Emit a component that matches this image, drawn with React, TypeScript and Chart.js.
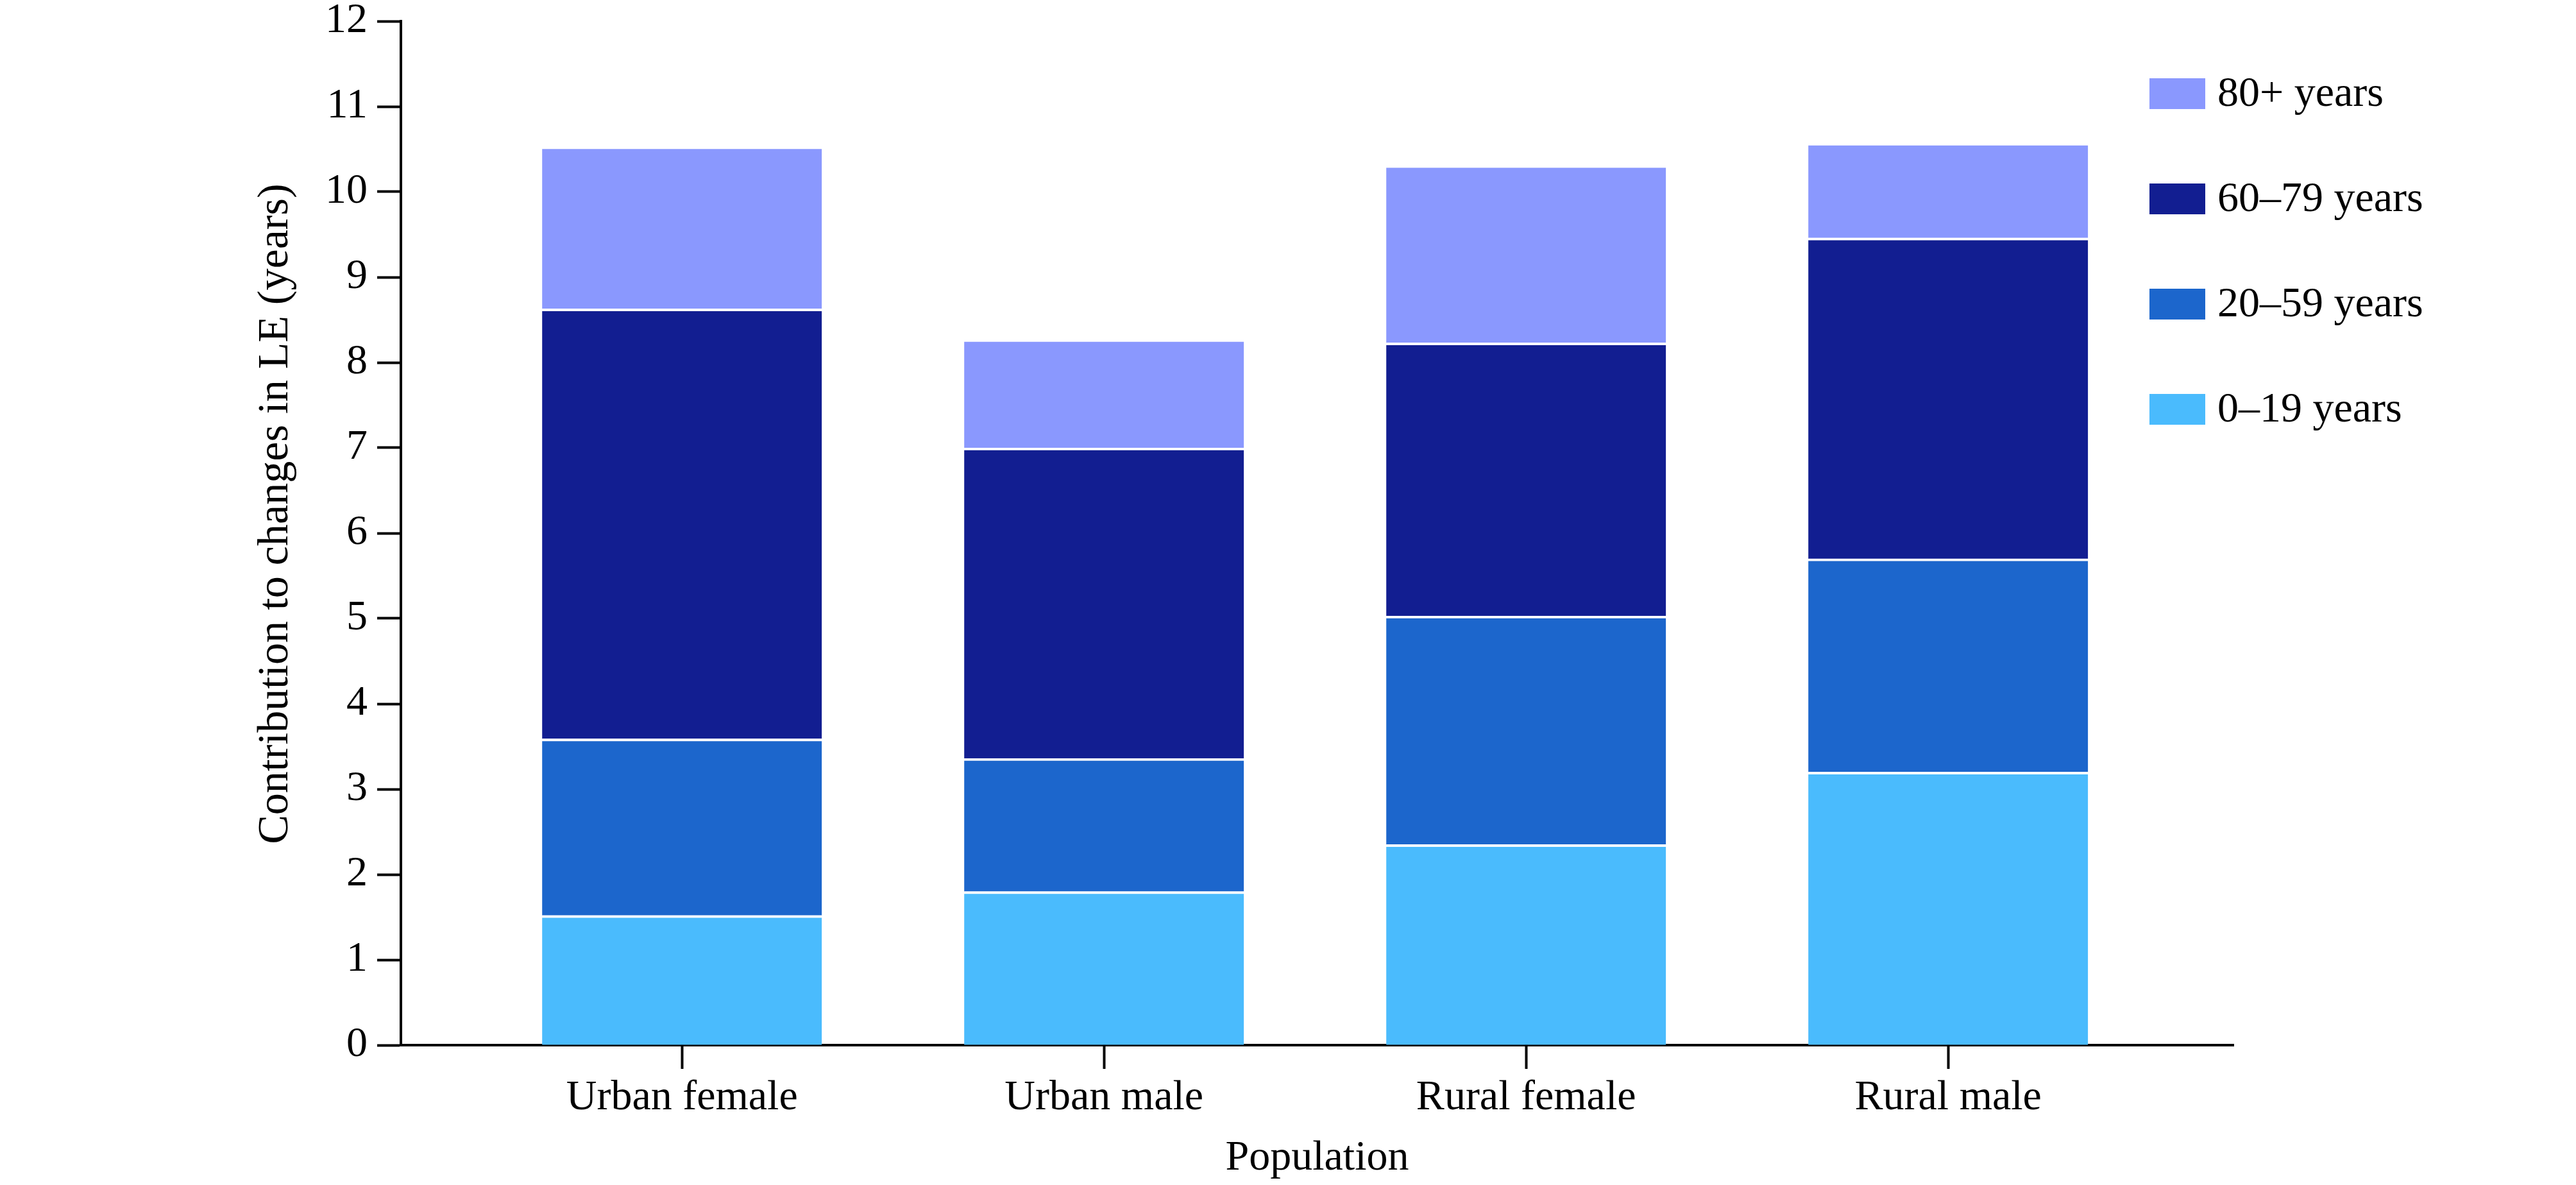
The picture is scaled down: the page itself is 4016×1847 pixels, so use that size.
import React, { useEffect, useRef } from "react";
import { Chart, registerables } from "chart.js";

Chart.register(...registerables);

const CATEGORIES = ["Urban female", "Urban male", "Rural female", "Rural male"];
const SERIES_NAMES = ["0–19 years", "20–59 years", "60–79 years", "80+ years"];
const AGE_0_19 = [1.52, 1.8, 2.35, 3.2];
const AGE_20_59 = [2.07, 1.56, 2.68, 2.5];
const AGE_60_79 = [5.04, 3.64, 3.2, 3.76];
const AGE_80_PLUS = [1.9, 1.27, 2.08, 1.11];
const SERIES_COLORS = ["#4ABBFD", "#1C66CC", "#121E91", "#8A98FE"];
const Y_MIN = 0;
const Y_MAX = 12;
const Y_STEP = 1;
const X_TITLE = "Population";
const Y_TITLE = "Contribution to changes in LE (years)";

const FONT = "'Liberation Serif', 'Times New Roman', serif";

const legendPlugin = {
  id: "insideLegend",
  afterDraw(chart: any) {
    const ctx = chart.ctx;
    const area = chart.chartArea;
    const boxX = area.right - 131;
    const boxW = 87;
    const boxH = 48;
    const firstCenter = area.top + 113;
    const step = 164;
    const ds = [...chart.data.datasets].reverse();
    ctx.save();
    ctx.font = `66px ${FONT}`;
    ctx.textBaseline = "middle";
    ctx.textAlign = "left";
    ds.forEach((d: any, i: number) => {
      const cy = firstCenter + i * step;
      ctx.fillStyle = d.backgroundColor;
      ctx.fillRect(boxX, cy - boxH / 2, boxW, boxH);
      ctx.fillStyle = "#000";
      ctx.fillText(d.label, boxX + boxW + 19, cy + 2);
    });
    // y-axis title
    ctx.save();
    ctx.translate(430, (area.top + area.bottom) / 2 - 30);
    ctx.rotate(-Math.PI / 2);
    ctx.textAlign = "center";
    ctx.textBaseline = "middle";
    ctx.font = `68px ${FONT}`;
    ctx.fillStyle = "#000";
    ctx.fillText(Y_TITLE, 0, 0);
    ctx.restore();
    ctx.restore();
  },
};

export default function App() {
  const ref = useRef<HTMLCanvasElement | null>(null);

  useEffect(() => {
    if (!ref.current) return;
    const seriesValues = [AGE_0_19, AGE_20_59, AGE_60_79, AGE_80_PLUS];
    const datasets = seriesValues.map((vals, si) => ({
      label: SERIES_NAMES[si],
      data: vals.map((v, i) => ({ x: i, y: v })),
      backgroundColor: SERIES_COLORS[si],
      borderColor: "#ffffff",
      borderWidth: { top: 4, left: 0, right: 0, bottom: 0 },
      borderSkipped: false,
      barThickness: 436,
    }));

    const chart = new Chart(ref.current, {
      type: "bar",
      data: { datasets },
      plugins: [legendPlugin],
      options: {
        animation: false,
        responsive: true,
        maintainAspectRatio: false,
        devicePixelRatio: 1,
        events: [],
        layout: {
          autoPadding: false,
          padding: { top: 33, right: 534, left: 0, bottom: 0 },
        },
        plugins: {
          legend: { display: false },
          tooltip: { enabled: false },
          title: { display: false },
        },
        scales: {
          x: {
            type: "linear",
            stacked: true,
            offset: false,
            min: -0.666,
            max: 3.676,
            afterBuildTicks: (scale: any) => {
              scale.ticks = CATEGORIES.map((_, i) => ({ value: i }));
            },
            afterFit: (scale: any) => {
              scale.height = 218;
              scale.paddingLeft = 0;
              scale.paddingRight = 0;
              scale.paddingTop = 0;
              scale.paddingBottom = 0;
            },
            border: { display: true, color: "#000", width: 4 },
            grid: {
              offset: false,
              drawOnChartArea: false,
              drawTicks: true,
              tickLength: 37,
              tickColor: "#000",
              tickWidth: 4,
              color: "#000",
            },
            ticks: {
              autoSkip: false,
              maxRotation: 0,
              padding: 6,
              color: "#000",
              font: { family: FONT, size: 66 },
              callback: (v: any) => CATEGORIES[Math.round(Number(v))] ?? "",
            },
            title: {
              display: true,
              text: X_TITLE,
              color: "#000",
              font: { family: FONT, size: 66 },
              padding: { top: 0, bottom: 2 },
            },
          },
          y: {
            stacked: true,
            min: Y_MIN,
            max: Y_MAX,
            afterFit: (scale: any) => {
              scale.width = 625;
              scale.paddingTop = 0;
              scale.paddingBottom = 0;
              scale.paddingLeft = 0;
              scale.paddingRight = 0;
            },
            border: { display: true, color: "#000", width: 4 },
            grid: {
              drawOnChartArea: false,
              drawTicks: true,
              tickLength: 37,
              tickColor: "#000",
              tickWidth: 4,
              color: "#000",
            },
            ticks: {
              stepSize: Y_STEP,
              padding: 15,
              color: "#000",
              font: { family: FONT, size: 66, lineHeight: 1 },
            },
            title: { display: false },
          },
        },
      },
    } as any);

    return () => chart.destroy();
  }, []);

  return (
    <div
      style={{
        position: "fixed",
        left: 0,
        top: 0,
        width: "4016px",
        height: "1847px",
        background: "#fff",
      }}
    >
      <canvas ref={ref} />
    </div>
  );
}
